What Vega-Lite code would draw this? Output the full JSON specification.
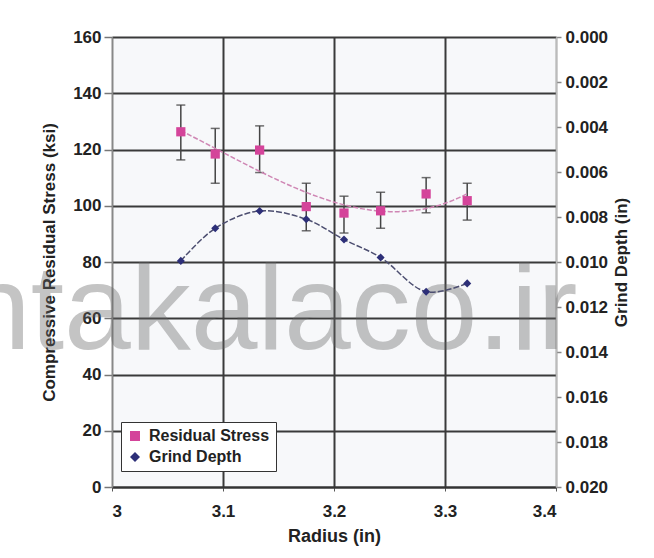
{
  "$schema": "https://vega.github.io/schema/vega-lite/v6.json",
  "width": 444,
  "height": 450,
  "autosize": {"type": "none"},
  "padding": {"left": 112, "top": 37, "right": 98, "bottom": 71},
  "background": "white",
  "data": {
    "values": [
      {"radius": 3.062, "stress": 126.3, "lo": 116.3, "hi": 135.8, "depth": 0.00995},
      {"radius": 3.093, "stress": 118.4, "lo": 108.0, "hi": 127.5, "depth": 0.0085},
      {"radius": 3.133, "stress": 119.8, "lo": 111.8, "hi": 128.4, "depth": 0.00773},
      {"radius": 3.175, "stress": 99.7, "lo": 91.1, "hi": 108.0, "depth": 0.0081},
      {"radius": 3.209, "stress": 97.4, "lo": 90.3, "hi": 103.4, "depth": 0.0090},
      {"radius": 3.242, "stress": 98.2, "lo": 92.0, "hi": 104.8, "depth": 0.0098},
      {"radius": 3.283, "stress": 104.2, "lo": 97.5, "hi": 110.0, "depth": 0.01132},
      {"radius": 3.320, "stress": 101.8, "lo": 94.9, "hi": 108.0, "depth": 0.01095}
    ]
  },
  "layer": [
    {
      "layer": [
        {
          "data": {"values": [{"mark": "ntakalaco.ir"}]},
          "mark": {"type": "text", "fontSize": 120, "font": "Liberation Sans", "align": "center", "baseline": "alphabetic", "color": "#666666", "opacity": 0.38},
          "encoding": {
            "x": {"datum": 3.143, "type": "quantitative", "title": "Radius (in)", "scale": {"domain": [3, 3.4], "nice": false, "zero": false}, "axis": {"values": [3, 3.1, 3.2, 3.3, 3.4], "format": "~g", "grid": true}},
            "y": {"datum": 49.1, "type": "quantitative", "title": "Compressive Residual Stress (ksi)", "scale": {"domain": [0, 160], "nice": false}, "axis": {"orient": "left", "values": [0, 20, 40, 60, 80, 100, 120, 140, 160], "grid": true}},
            "text": {"field": "mark"}
          }
        },
        {
          "mark": {"type": "errorbar", "ticks": {"size": 9, "thickness": 1.5, "color": "#333"}, "rule": {"color": "#444", "strokeWidth": 1.5}},
          "encoding": {
            "x": {"field": "radius", "type": "quantitative", "title": "Radius (in)", "scale": {"domain": [3, 3.4], "nice": false, "zero": false}, "axis": {"values": [3, 3.1, 3.2, 3.3, 3.4], "format": "~g", "grid": true}},
            "y": {"field": "lo", "type": "quantitative", "title": "Compressive Residual Stress (ksi)", "scale": {"domain": [0, 160], "nice": false}, "axis": {"orient": "left", "values": [0, 20, 40, 60, 80, 100, 120, 140, 160], "grid": true}},
            "y2": {"field": "hi"}
          }
        },
        {
          "transform": [{"regression": "stress", "on": "radius", "method": "poly", "order": 3}],
          "mark": {"type": "line", "color": "#cf86b4", "strokeWidth": 1.5, "strokeDash": [5, 2]},
          "encoding": {
            "x": {"field": "radius", "type": "quantitative", "title": "Radius (in)", "scale": {"domain": [3, 3.4], "nice": false, "zero": false}, "axis": {"values": [3, 3.1, 3.2, 3.3, 3.4], "format": "~g", "grid": true}},
            "y": {"field": "stress", "type": "quantitative", "title": "Compressive Residual Stress (ksi)", "scale": {"domain": [0, 160], "nice": false}, "axis": {"orient": "left", "values": [0, 20, 40, 60, 80, 100, 120, 140, 160], "grid": true}}
          }
        },
        {
          "mark": {"type": "point", "filled": true, "size": 85, "opacity": 1},
          "encoding": {
            "x": {"field": "radius", "type": "quantitative", "title": "Radius (in)", "scale": {"domain": [3, 3.4], "nice": false, "zero": false}, "axis": {"values": [3, 3.1, 3.2, 3.3, 3.4], "format": "~g", "grid": true}},
            "y": {"field": "stress", "type": "quantitative", "title": "Compressive Residual Stress (ksi)", "scale": {"domain": [0, 160], "nice": false}, "axis": {"orient": "left", "values": [0, 20, 40, 60, 80, 100, 120, 140, 160], "grid": true}},
            "color": {
              "datum": "Residual Stress",
              "type": "nominal",
              "scale": {"domain": ["Residual Stress", "Grind Depth"], "range": ["#d4449a", "#2d2f78"]},
              "legend": {"title": null}
            },
            "shape": {
              "datum": "Residual Stress",
              "type": "nominal",
              "scale": {"domain": ["Residual Stress", "Grind Depth"], "range": ["square", "diamond"]},
              "legend": {"title": null}
            }
          }
        }
      ]
    },
    {
      "layer": [
        {
          "mark": {"type": "line", "interpolate": "catmull-rom", "color": "#4c4e70", "strokeWidth": 1.5, "strokeDash": [6, 2]},
          "encoding": {
            "x": {"field": "radius", "type": "quantitative", "title": "Radius (in)", "scale": {"domain": [3, 3.4], "nice": false, "zero": false}, "axis": {"values": [3, 3.1, 3.2, 3.3, 3.4], "format": "~g", "grid": true}},
            "y": {"field": "depth", "type": "quantitative", "title": "Grind Depth (in)", "scale": {"domain": [0, 0.02], "reverse": true, "nice": false}, "axis": {"orient": "right", "values": [0, 0.002, 0.004, 0.006, 0.008, 0.01, 0.012, 0.014, 0.016, 0.018, 0.02], "format": ".3f", "grid": false}}
          }
        },
        {
          "mark": {"type": "point", "filled": true, "size": 65, "opacity": 1},
          "encoding": {
            "x": {"field": "radius", "type": "quantitative", "title": "Radius (in)", "scale": {"domain": [3, 3.4], "nice": false, "zero": false}, "axis": {"values": [3, 3.1, 3.2, 3.3, 3.4], "format": "~g", "grid": true}},
            "y": {"field": "depth", "type": "quantitative", "title": "Grind Depth (in)", "scale": {"domain": [0, 0.02], "reverse": true, "nice": false}, "axis": {"orient": "right", "values": [0, 0.002, 0.004, 0.006, 0.008, 0.01, 0.012, 0.014, 0.016, 0.018, 0.02], "format": ".3f", "grid": false}},
            "color": {
              "datum": "Grind Depth",
              "type": "nominal",
              "scale": {"domain": ["Residual Stress", "Grind Depth"], "range": ["#d4449a", "#2d2f78"]},
              "legend": {"title": null}
            },
            "shape": {
              "datum": "Grind Depth",
              "type": "nominal",
              "scale": {"domain": ["Residual Stress", "Grind Depth"], "range": ["square", "diamond"]},
              "legend": {"title": null}
            }
          }
        }
      ]
    }
  ],
  "resolve": {"scale": {"y": "independent"}},
  "config": {
    "font": "Liberation Sans",
    "view": {"stroke": null, "fill": "#f7f8fa"},
    "axis": {
      "gridColor": "#3a3a3a",
      "gridWidth": 2,
      "gridOpacity": 1,
      "labelFontSize": 17,
      "labelFontWeight": "bold",
      "labelColor": "#222",
      "titleFontSize": 17,
      "titleFontWeight": "bold",
      "titleColor": "#222"
    },
    "axisX": {
      "gridColor": {"condition": {"test": "datum.value <= 3.0001 || datum.value >= 3.3999", "value": "#b0b0b0"}, "value": "#3a3a3a"},
      "domainColor": "#333",
      "domainWidth": 2,
      "tickSize": 4,
      "tickColor": "#555",
      "labelPadding": 12,
      "titleFontSize": 18,
      "titlePadding": 8
    },
    "axisLeft": {
      "domainColor": "#888",
      "domainWidth": 1.5,
      "tickSize": 8,
      "tickColor": "#777",
      "tickWidth": 1.5,
      "labelPadding": 3,
      "titlePadding": 14
    },
    "axisRight": {
      "domainColor": "#bbb",
      "domainWidth": 1.5,
      "tickSize": 5,
      "tickColor": "#888",
      "tickWidth": 1.5,
      "labelPadding": 4,
      "titleAngle": 270,
      "titleBaseline": "top",
      "titlePadding": 6
    },
    "legend": {
      "orient": "none",
      "legendX": 9,
      "legendY": 385,
      "fillColor": "white",
      "strokeColor": "#333",
      "padding": 6,
      "labelFontSize": 16,
      "labelFontWeight": "bold",
      "labelColor": "#222",
      "labelFont": "Liberation Sans",
      "symbolSize": 100,
      "labelOffset": 6,
      "rowPadding": 5,
      "symbolStrokeWidth": 0,
      "zindex": 2
    }
  }
}
